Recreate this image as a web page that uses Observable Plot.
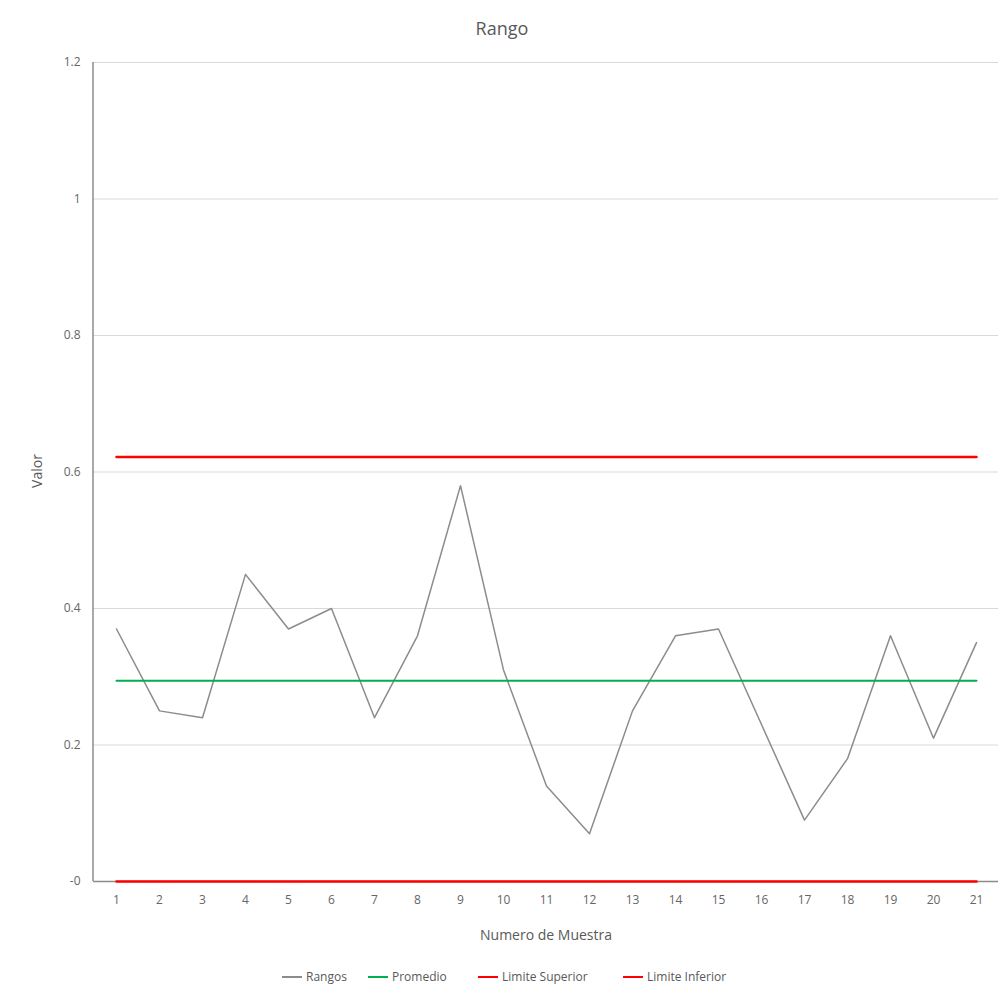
<!DOCTYPE html>
<html><head><meta charset="utf-8">
<script src="https://cdn.jsdelivr.net/npm/d3@7"></script>
<script src="https://cdn.jsdelivr.net/npm/@observablehq/plot@0.6"></script>
<style>
body{margin:0;background:#fff;font-family:"Open Sans",sans-serif;color:#595959;width:1004px;}
#title{height:45px;text-align:center;font-size:18px;line-height:56px;color:#595959;}
#legend{position:relative;height:40px;font-size:12px;}
.li{position:absolute;top:13px;display:flex;align-items:center;}
.sw{display:inline-block;width:20px;height:2px;margin-right:4px;}
</style></head>
<body>
<div id="title">Rango</div>
<div id="chart"></div>
<div id="legend"></div>
<script>
const muestras = [1,2,3,4,5,6,7,8,9,10,11,12,13,14,15,16,17,18,19,20,21];
const rangos = [0.37,0.25,0.24,0.45,0.37,0.40,0.24,0.36,0.58,0.31,0.14,0.07,0.25,0.36,0.37,0.23,0.09,0.18,0.36,0.21,0.35];
const promedio = 0.294;
const limiteSuperior = 0.622;
const limiteInferior = 0;
const yTicks = [0,0.2,0.4,0.6,0.8,1,1.2];
const yTickLabels = ["-0","0.2","0.4","0.6","0.8","1","1.2"];
const seriesNames = ["Rangos","Promedio","Limite Superior","Limite Inferior"];
const seriesColors = ["#8c8c8c","#00b050","#ff0000","#ff0000"];

const rows = muestras.map((m,i)=>({m, r:rangos[i], p:promedio, ls:limiteSuperior, li:limiteInferior}));

const chart = Plot.plot({
  width: 1004, height: 910,
  marginLeft: 93, marginRight: 6, marginTop: 17, marginBottom: 74,
  style:{fontFamily:"Open Sans, sans-serif", fontSize:"12px", color:"#595959"},
  x:{type:"point", domain:muestras, padding:0.5, label:null},
  y:{domain:[0,1.2], label:null},
  marks:[
    Plot.gridY(yTicks.slice(1), {stroke:"#d9d9d9", strokeOpacity:1}),
    Plot.ruleY([0], {stroke:"#8c8c8c", strokeWidth:1.5}),
    Plot.axisY(yTicks, {tickSize:0, tickPadding:13, tickFormat:(d,i)=>yTickLabels[i], fill:"#666", fontSize:12}),
    Plot.axisX(muestras, {tickSize:0, tickPadding:14, fill:"#666", fontSize:12, label:null}),
    Plot.line(rows, {x:"m", y:"r", stroke:seriesColors[0], strokeWidth:1.5}),
    Plot.line(rows, {x:"m", y:"p", stroke:seriesColors[1], strokeWidth:2}),
    Plot.line(rows, {x:"m", y:"ls", stroke:seriesColors[2], strokeWidth:2.5}),
    Plot.line(rows, {x:"m", y:"li", stroke:seriesColors[3], strokeWidth:2.5})
  ]
});
const svg = d3.select(chart);
svg.append("line").attr("x1",93).attr("x2",93).attr("y1",17).attr("y2",836).attr("stroke","#8c8c8c").attr("stroke-width",1.5);
svg.append("text").attr("transform","translate(42,426) rotate(-90)").attr("text-anchor","middle").attr("font-size",14).attr("fill","#595959").text("Valor");
svg.append("text").attr("x",546).attr("y",895).attr("text-anchor","middle").attr("font-size",14).attr("fill","#595959").text("Numero de Muestra");
document.getElementById("chart").appendChild(chart);

const lpos = [[282,303],[368,392],[478,501],[623,645]];
const leg = document.getElementById("legend");
seriesNames.forEach((n,i)=>{
  const d = document.createElement("div");
  d.className="li"; d.style.left = lpos[i][0]+"px";
  d.innerHTML = `<span class="sw" style="background:${seriesColors[i]}"></span><span>${n}</span>`;
  leg.appendChild(d);
});
</script>
</body></html>
